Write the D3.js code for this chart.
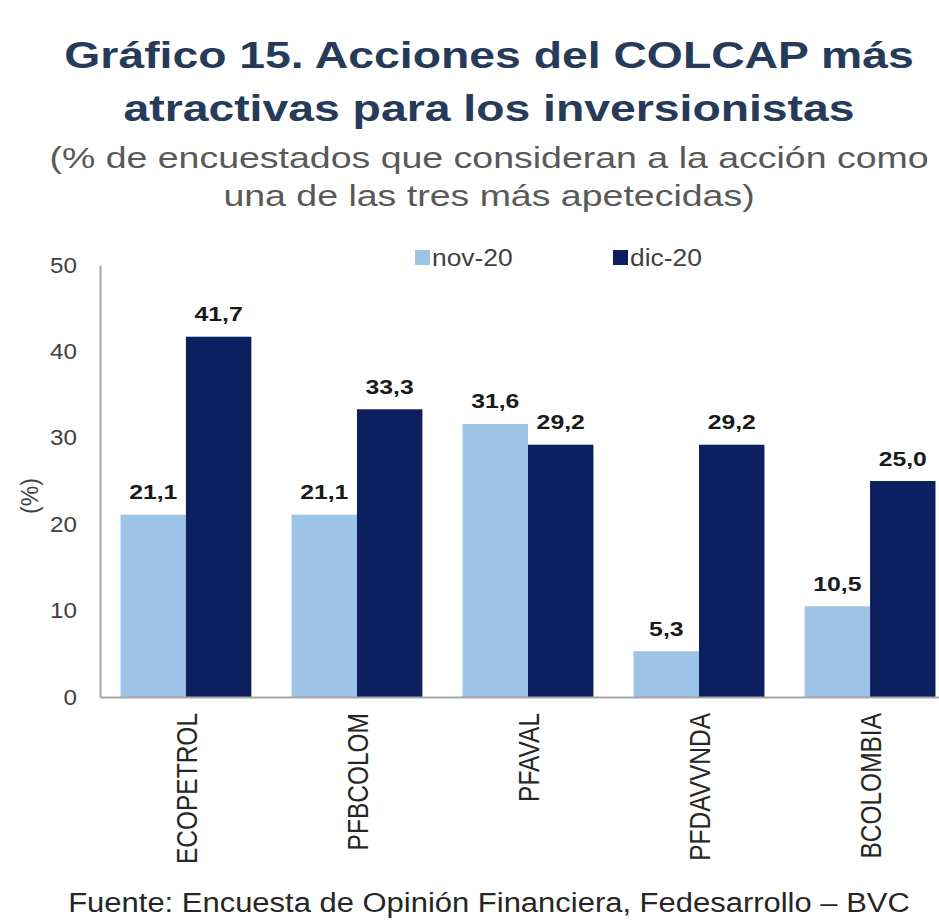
<!DOCTYPE html>
<html>
<head>
<meta charset="utf-8">
<script src="https://cdn.jsdelivr.net/npm/d3@7"></script>
<style>
  html, body { margin: 0; padding: 0; background: #fff; }
  svg { display: block; font-family: "Liberation Sans", Arial, sans-serif; }
</style>
</head>
<body>
<svg id="chart" width="939" height="922"></svg>
<script>
var categories = ["ECOPETROL", "PFBCOLOM", "PFAVAL", "PFDAVVNDA", "BCOLOMBIA"];
var seriesNames = ["nov-20", "dic-20"];
var nov20 = [21.1, 21.1, 31.6, 5.3, 10.5];
var dic20 = [41.7, 33.3, 29.2, 29.2, 25.0];
var yTicks = [0, 10, 20, 30, 40, 50];

var colors = {"nov-20": "#9dc3e6", "dic-20": "#0c1f5e"};
var values = {"nov-20": nov20, "dic-20": dic20};

var svg = d3.select("#chart");
var cx = 489;

// the source picture is stretched sideways, so texts get a horizontal scale
function stext(sel, x, y, sx, rot) {
    return sel.attr("transform", "translate(" + x + "," + y + ") scale(" + sx + ",1)" + (rot ? " rotate(-90)" : ""));
}

// title + subtitle
var titleLines = ["Gráfico 15. Acciones del COLCAP más", "atractivas para los inversionistas"];
var subLines = ["(% de encuestados que consideran a la acción como", "una de las tres más apetecidas)"];

titleLines.forEach(function (t, i) {
    stext(svg.append("text"), cx, 68 + i * 53, 1.287)
        .attr("text-anchor", "middle")
        .attr("font-size", 36)
        .attr("font-weight", "bold")
        .attr("fill", "#263a5a")
        .text(t);
});
subLines.forEach(function (t, i) {
    stext(svg.append("text"), cx, 168 + i * 38, 1.25)
        .attr("text-anchor", "middle")
        .attr("font-size", 30)
        .attr("fill", "#595959")
        .text(t);
});

// scales
var x0 = d3.scaleBand()
    .domain(categories)
    .range([100, 956])
    .paddingInner(0.235)
    .paddingOuter(0.12);

var x1 = d3.scaleBand()
    .domain(seriesNames)
    .range([0, x0.bandwidth()]);

var y = d3.scaleLinear()
    .domain([0, 50])
    .range([697, 265]);

var fmt = function (v) { return d3.format(".1f")(v).replace(".", ","); };

// bars
var groups = svg.append("g").selectAll("g")
    .data(categories)
    .enter().append("g")
    .attr("transform", function (d) { return "translate(" + x0(d) + ",0)"; });

groups.selectAll("rect")
    .data(function (d, i) {
        return seriesNames.map(function (s) { return {s: s, v: values[s][i]}; });
    })
    .enter().append("rect")
    .attr("x", function (d) { return x1(d.s); })
    .attr("width", x1.bandwidth())
    .attr("y", function (d) { return y(d.v); })
    .attr("height", function (d) { return y(0) - y(d.v); })
    .attr("fill", function (d) { return colors[d.s]; });

// value labels
groups.selectAll("text.val")
    .data(function (d, i) {
        return seriesNames.map(function (s) { return {s: s, v: values[s][i]}; });
    })
    .enter().append("text")
    .attr("class", "val")
    .each(function (d) {
        stext(d3.select(this), x1(d.s) + x1.bandwidth() / 2, y(d.v) - 15.5, 1.18);
    })
    .attr("text-anchor", "middle")
    .attr("font-size", 21)
    .attr("font-weight", "bold")
    .attr("fill", "#1a1a1a")
    .text(function (d) { return fmt(d.v); });

// y axis
var yAxis = svg.append("g")
    .attr("transform", "translate(100,0)")
    .call(d3.axisLeft(y).tickValues(yTicks).tickSize(0).tickSizeOuter(0).tickPadding(23));
yAxis.select(".domain").attr("stroke", "#a6a6a6").attr("stroke-width", 2);
yAxis.selectAll(".tick text")
    .attr("x", -23 / 1.1)
    .attr("transform", "scale(1.1,1)")
    .attr("font-size", 22)
    .attr("font-family", "Liberation Sans, Arial, sans-serif")
    .attr("fill", "#404040");

// x axis
var xAxis = svg.append("g")
    .attr("transform", "translate(0," + y(0) + ")")
    .call(d3.axisBottom(x0).tickSize(0).tickSizeOuter(0));
xAxis.select(".domain").attr("stroke", "#a6a6a6").attr("stroke-width", 2);
xAxis.selectAll(".tick text")
    .attr("transform", "scale(1.24,1) rotate(-90)")
    .attr("text-anchor", "end")
    .attr("x", -16)
    .attr("y", 0)
    .attr("dy", "0.36em")
    .attr("font-size", 24.5)
    .attr("font-family", "Liberation Sans, Arial, sans-serif")
    .attr("fill", "#262626");

// y axis title
stext(svg.append("text"), 30, 496, 1.0, true)
    .attr("text-anchor", "middle")
    .attr("dy", "0.35em")
    .attr("font-size", 23)
    .attr("fill", "#404040")
    .text("(%)");

// legend
var legend = svg.append("g").selectAll("g")
    .data(seriesNames)
    .enter().append("g")
    .attr("transform", function (d, i) { return "translate(" + (415 + i * 198) + ",250)"; });
legend.append("rect")
    .attr("width", 15)
    .attr("height", 15)
    .attr("fill", function (d) { return colors[d]; });
legend.append("text")
    .each(function () { stext(d3.select(this), 17, 16, 1.1); })
    .attr("font-size", 24)
    .attr("fill", "#404040")
    .text(function (d) { return d; });

// source
stext(svg.append("text"), cx, 912, 1.106)
    .attr("text-anchor", "middle")
    .attr("font-size", 28)
    .attr("fill", "#262626")
    .text("Fuente: Encuesta de Opinión Financiera, Fedesarrollo – BVC");
</script>
</body>
</html>
